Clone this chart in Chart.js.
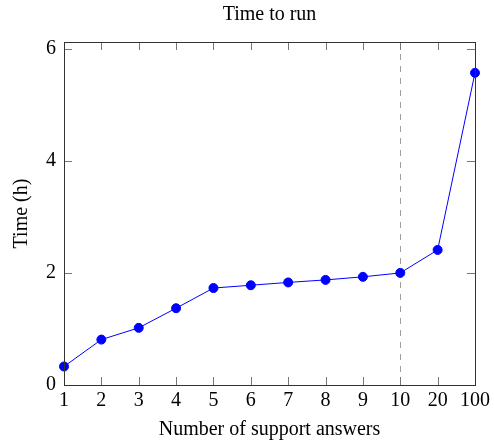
<!DOCTYPE html>
<html>
<head>
<meta charset="utf-8">
<script src="https://cdn.jsdelivr.net/npm/chart.js@4"></script>
<style>
  html, body { margin: 0; padding: 0; background: #fff; }
  #wrap { width: 494px; height: 446px; }
</style>
</head>
<body>
<div id="wrap"><canvas id="chart" width="494" height="446"></canvas></div>
<script>
const supportAnswers = ['1', '2', '3', '4', '5', '6', '7', '8', '9', '10', '20', '100'];
const timeHours = [0.33, 0.81, 1.02, 1.37, 1.73, 1.78, 1.83, 1.875, 1.93, 2.0, 2.41, 5.57];
const yTicks = [0, 2, 4, 6];
const markerAt = '10';

const serif = "'Liberation Serif', 'DejaVu Serif', serif";

// pgfplots style ticks: short marks pointing into the plot on all four sides
const innerTicks = {
  id: 'innerTicks',
  afterDatasetsDraw(chart) {
    const { ctx, chartArea: a, scales: { x, y } } = chart;
    const len = 8;
    ctx.save();
    ctx.strokeStyle = '#777';
    ctx.lineWidth = 1;
    ctx.beginPath();
    x.ticks.forEach((t, i) => {
      const px = Math.round(x.getPixelForTick(i)) + 0.5;
      ctx.moveTo(px, a.bottom); ctx.lineTo(px, a.bottom - len);
      ctx.moveTo(px, a.top); ctx.lineTo(px, a.top + len);
    });
    y.ticks.forEach((t, i) => {
      const py = Math.round(y.getPixelForTick(i)) + 0.5;
      ctx.moveTo(a.left, py); ctx.lineTo(a.left + len, py);
      ctx.moveTo(a.right, py); ctx.lineTo(a.right - len, py);
    });
    ctx.stroke();
    ctx.restore();
  }
};

const dashedMarker = {
  id: 'dashedMarker',
  beforeDatasetsDraw(chart) {
    const { ctx, chartArea: a, scales: { x } } = chart;
    const px = Math.round(x.getPixelForValue(supportAnswers.indexOf(markerAt))) + 0.5;
    ctx.save();
    ctx.strokeStyle = '#a0a0a0';
    ctx.lineWidth = 1;
    ctx.setLineDash([6, 6]);
    ctx.beginPath();
    ctx.moveTo(px, a.top);
    ctx.lineTo(px, a.bottom);
    ctx.stroke();
    ctx.restore();
  }
};

const frame = {
  id: 'frame',
  afterDatasetsDraw(chart) {
    const { ctx, chartArea: a } = chart;
    ctx.save();
    ctx.strokeStyle = '#333';
    ctx.lineWidth = 1;
    ctx.strokeRect(Math.round(a.left) + 0.5, Math.round(a.top) + 0.5,
      Math.round(a.right - a.left), Math.round(a.bottom - a.top));
    ctx.restore();
  }
};

new Chart(document.getElementById('chart'), {
  type: 'line',
  data: {
    labels: supportAnswers,
    datasets: [{
      label: 'Time',
      data: timeHours,
      borderColor: 'rgb(0, 0, 255)',
      backgroundColor: 'rgb(0, 0, 255)',
      borderWidth: 1,
      pointRadius: 4.5,
      pointHoverRadius: 4.5,
      tension: 0,
      clip: false
    }]
  },
  options: {
    responsive: false,
    animation: false,
    layout: { padding: { left: 0, right: 17, top: 0, bottom: 0 } },
    plugins: {
      legend: { display: false },
      tooltip: { enabled: false },
      title: {
        display: true,
        fullSize: false,
        text: 'Time to run',
        color: '#000',
        font: { family: serif, size: 20, weight: 'normal' },
        padding: { top: 3, bottom: 15 }
      }
    },
    scales: {
      x: {
        type: 'category',
        offset: false,
        grid: { display: false, drawTicks: false },
        border: { display: false },
        ticks: {
          color: '#000',
          padding: 4,
          maxRotation: 0,
          autoSkip: false,
          font: { family: serif, size: 20 }
        },
        title: {
          display: true,
          text: 'Number of support answers',
          color: '#000',
          font: { family: serif, size: 20 },
          padding: { top: 0, bottom: 4 }
        },
        afterFit(scale) { scale.height = 61; }
      },
      y: {
        min: 0,
        max: 6.12,
        afterBuildTicks(scale) { scale.ticks = yTicks.map(v => ({ value: v })); },
        grid: { display: false, drawTicks: false },
        border: { display: false },
        ticks: {
          color: '#000',
          padding: 8,
          font: { family: serif, size: 20 }
        },
        title: {
          display: true,
          text: 'Time (h)',
          color: '#000',
          font: { family: serif, size: 20 },
          padding: { top: 10, bottom: 0 }
        },
        afterFit(scale) { scale.width = 64; }
      }
    }
  },
  plugins: [dashedMarker, innerTicks, frame]
});
</script>
</body>
</html>
